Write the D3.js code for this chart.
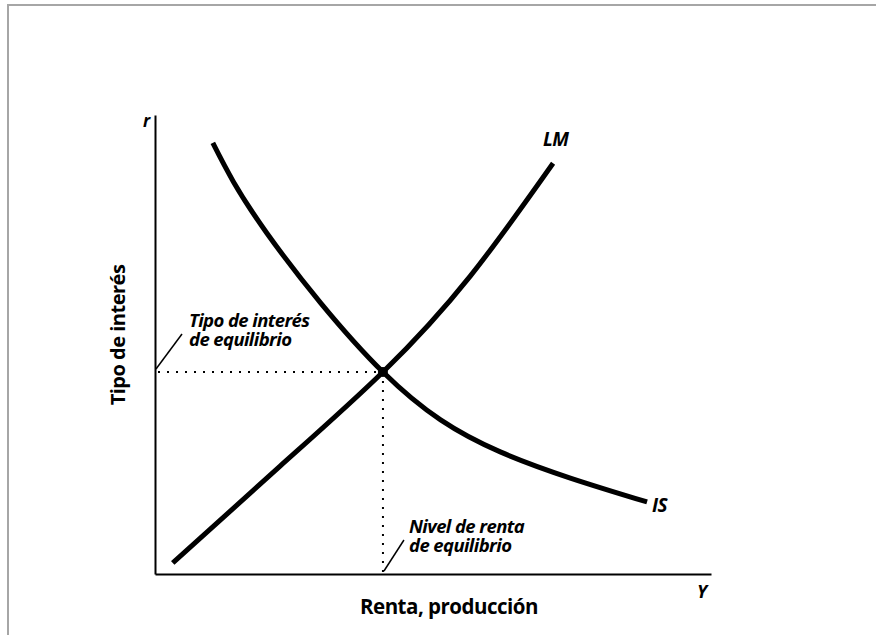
<!DOCTYPE html>
<html>
<head>
<meta charset="utf-8">
<script src="https://cdn.jsdelivr.net/npm/d3@7"></script>
<style>
  body { margin: 0; background: #fff; }
  text { font-family: "Open Sans", sans-serif; fill: #000; }
</style>
</head>
<body>
<div id="vis1"></div>
<script>
// IS-LM diagram data (in arbitrary units)
const IS_X = [10.4, 20.1, 41.0, 62.1, 88.5];
const IS_Y = [93.9, 74.3, 44.0, 26.6, 15.7];

const LM_X = [3.2, 22.5, 41.0, 56.7, 71.6];
const LM_Y = [2.4, 23.5, 44.0, 64.9, 89.5];

// equilibrium point
const EQ = {x: 41.0, y: 44.0};

// dimensions of the frame
const FRAME_HEIGHT = 635;
const FRAME_WIDTH = 876;

// margins of the plot area
const MARGINS = {left: 155, right: 165, top: 115, bottom: 61};

const VIS_HEIGHT = FRAME_HEIGHT - MARGINS.top - MARGINS.bottom;
const VIS_WIDTH = FRAME_WIDTH - MARGINS.left - MARGINS.right;

const FRAME1 = d3.select("#vis1")
                  .append("svg")
                    .attr("height", FRAME_HEIGHT)
                    .attr("width", FRAME_WIDTH);

// grey border (only top and left visible)
FRAME1.append("rect")
        .attr("x", 8).attr("y", 5)
        .attr("width", 1000).attr("height", 1000)
        .attr("fill", "none")
        .attr("stroke", "#a6a6a6")
        .attr("stroke-width", 2);

// scales
const X_SCALE = d3.scaleLinear()
                  .domain([0, 100])
                  .range([0, VIS_WIDTH]);

const Y_SCALE = d3.scaleLinear()
                  .domain([0, 100])
                  .range([VIS_HEIGHT, 0]);

const G = FRAME1.append("g")
                .attr("transform", "translate(" + MARGINS.left + "," + MARGINS.top + ")");

// axes without ticks
G.append("g")
   .attr("transform", "translate(0," + VIS_HEIGHT + ")")
   .call(d3.axisBottom(X_SCALE).ticks(0).tickSizeOuter(0))
   .select(".domain").attr("stroke-width", 2);

G.append("g")
   .call(d3.axisLeft(Y_SCALE).ticks(0).tickSizeOuter(0))
   .select(".domain").attr("stroke-width", 2);

// dotted guides to equilibrium
G.append("line")
   .attr("x1", X_SCALE(0) + 3).attr("x2", X_SCALE(EQ.x))
   .attr("y1", Y_SCALE(EQ.y)).attr("y2", Y_SCALE(EQ.y))
   .attr("stroke", "#000").attr("stroke-width", 2)
   .attr("stroke-dasharray", "2,7");

G.append("line")
   .attr("x1", X_SCALE(EQ.x)).attr("x2", X_SCALE(EQ.x))
   .attr("y1", Y_SCALE(EQ.y)).attr("y2", Y_SCALE(0) - 2)
   .attr("stroke", "#000").attr("stroke-width", 2)
   .attr("stroke-dasharray", "2,7");

// curves
const line = d3.line()
               .x((d) => X_SCALE(d[0]))
               .y((d) => Y_SCALE(d[1]))
               .curve(d3.curveNatural);

G.append("path")
   .datum(IS_X.map((x, i) => [x, IS_Y[i]]))
   .attr("d", line)
   .attr("fill", "none").attr("stroke", "#000")
   .attr("stroke-width", 5).attr("stroke-linecap", "butt");

G.append("path")
   .datum(LM_X.map((x, i) => [x, LM_Y[i]]))
   .attr("d", line)
   .attr("fill", "none").attr("stroke", "#000")
   .attr("stroke-width", 5).attr("stroke-linecap", "butt");

G.append("circle")
   .attr("cx", X_SCALE(EQ.x)).attr("cy", Y_SCALE(EQ.y))
   .attr("r", 5).attr("fill", "#000");

// leader lines for annotations
G.append("line")
   .attr("x1", X_SCALE(0) + 1).attr("y1", Y_SCALE(EQ.y) - 3)
   .attr("x2", X_SCALE(0) + 27).attr("y2", Y_SCALE(EQ.y) - 38)
   .attr("stroke", "#000").attr("stroke-width", 1.5);

G.append("line")
   .attr("x1", X_SCALE(EQ.x) + 1).attr("y1", Y_SCALE(0) - 3)
   .attr("x2", X_SCALE(EQ.x) + 21).attr("y2", Y_SCALE(0) - 34)
   .attr("stroke", "#000").attr("stroke-width", 1.5);

// annotation texts (multi-line labels use tspans)
function italicText(x, y, lines, size) {
  const t = FRAME1.append("text")
                  .attr("x", x).attr("y", y)
                  .attr("font-size", size)
                  .attr("font-style", "italic")
                  .attr("font-weight", 700)
                  .attr("letter-spacing", -0.6);
  lines.forEach((str, i) => {
    t.append("tspan")
       .attr("x", x)
       .attr("dy", i === 0 ? 0 : 19)
       .text(str);
  });
}

italicText(189, 327, ["Tipo de interés", "de equilibrio"], 18.5);
italicText(409, 533, ["Nivel de renta", "de equilibrio"], 18.5);
italicText(652, 512, ["IS"], 19);
italicText(543, 146, ["LM"], 19);
italicText(143, 127, ["r"], 17);
italicText(697, 598, ["Y"], 18);

// axis titles
FRAME1.append("text")
        .attr("x", 449).attr("y", 614)
        .attr("text-anchor", "middle")
        .attr("font-size", 20.5)
        .attr("font-weight", 700)
        .attr("letter-spacing", -0.5)
        .text("Renta, producción");

FRAME1.append("text")
        .attr("transform", "translate(125,335) rotate(-90)")
        .attr("text-anchor", "middle")
        .attr("font-size", 20)
        .attr("font-weight", 700)
        .attr("letter-spacing", -0.5)
        .text("Tipo de interés");
</script>
</body>
</html>
